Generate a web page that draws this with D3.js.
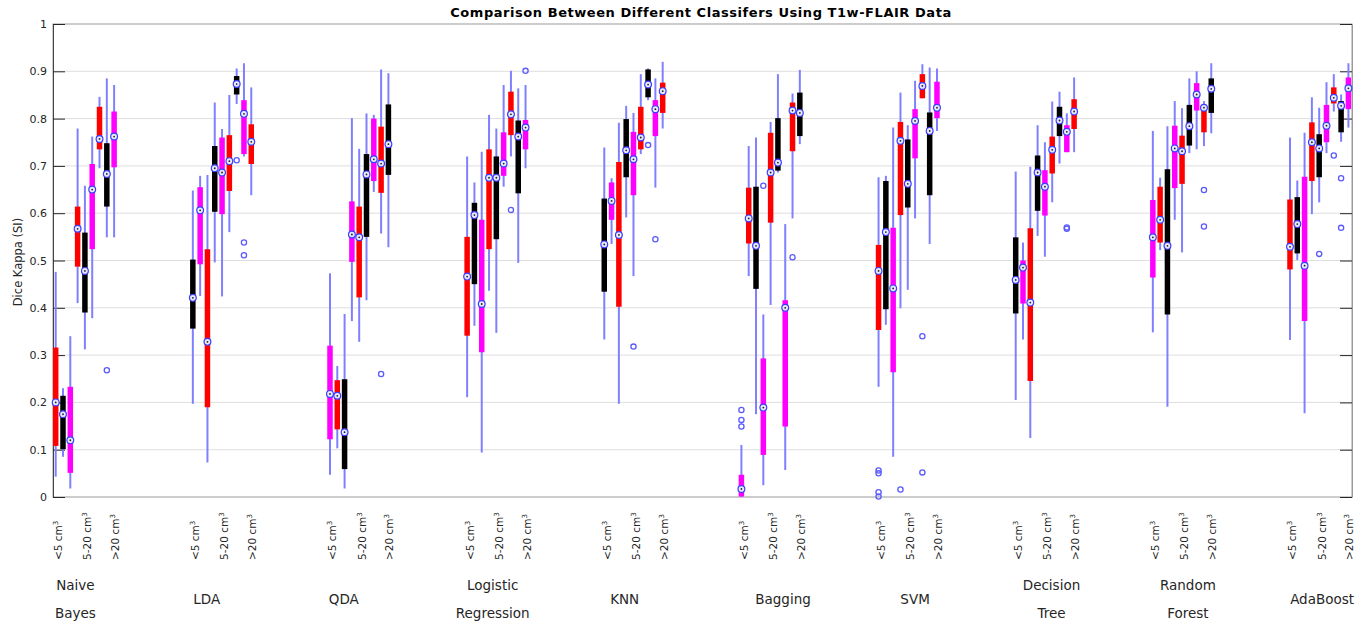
<!DOCTYPE html>
<html><head><meta charset="utf-8">
<script src="https://cdn.jsdelivr.net/npm/d3@7"></script>
<style>
body{margin:0;background:#fff;}
text{font-family:"DejaVu Sans",sans-serif;}
</style>
</head><body>
<svg id="chart" width="1371" height="625"></svg>
<script>
// ---------------- DATA ----------------
const classifiers = [["Naive","Bayes"],["LDA"],["QDA"],["Logistic","Regression"],["KNN"],["Bagging"],["SVM"],["Decision","Tree"],["Random","Forest"],["AdaBoost"]];
const sizeLabels = ["<5 cm", "5-20 cm", ">20 cm"];
const boxColors = ["#ff0000", "#000000", "#ff00ff"];
const yTicks = [0,0.1,0.2,0.3,0.4,0.5,0.6,0.7,0.8,0.9,1];
const yTickLabels = ["0","0.1","0.2","0.3","0.4","0.5","0.6","0.7","0.8","0.9","1"];

// nine boxes per classifier
const whiskerLow = [
 [0.043,0.085,0.018,0.410,0.312,0.378,0.695,0.549,0.549],
 [0.197,0.425,0.073,0.496,0.424,0.560,0.831,0.720,0.638],
 [0.047,0.103,0.018,0.372,0.328,0.416,0.645,0.557,0.528],
 [0.211,0.362,0.094,0.436,0.347,0.656,0.720,0.495,0.695],
 [0.333,0.535,0.197,0.591,0.467,0.725,0.839,0.654,0.779],
 [0.000,0.467,0.175,0.025,0.406,0.686,0.057,0.589,0.746],
 [0.233,0.364,0.085,0.399,0.438,0.589,0.843,0.535,0.774],
 [0.205,0.333,0.125,0.552,0.508,0.623,0.705,0.729,0.729],
 [0.348,0.522,0.191,0.586,0.517,0.727,0.735,0.742,0.769],
 [0.332,0.501,0.177,0.598,0.623,0.727,0.815,0.751,0.781]
];
const q1 = [
 [0.108,0.101,0.051,0.487,0.390,0.524,0.735,0.614,0.697],
 [0.356,0.492,0.190,0.603,0.598,0.647,0.851,0.725,0.704],
 [0.122,0.143,0.059,0.497,0.422,0.550,0.668,0.643,0.681],
 [0.341,0.450,0.306,0.524,0.545,0.679,0.765,0.642,0.735],
 [0.434,0.586,0.402,0.676,0.638,0.735,0.845,0.763,0.812],
 [0.001,0.536,0.440,0.089,0.580,0.690,0.149,0.731,0.763],
 [0.353,0.397,0.264,0.596,0.612,0.716,0.843,0.638,0.801],
 [0.388,0.409,0.245,0.605,0.595,0.684,0.763,0.729,0.778],
 [0.464,0.538,0.386,0.653,0.662,0.743,0.817,0.771,0.812],
 [0.481,0.515,0.372,0.668,0.676,0.750,0.832,0.771,0.820]
];
const median = [
 [0.200,0.175,0.120,0.567,0.478,0.650,0.757,0.683,0.762],
 [0.421,0.606,0.328,0.695,0.686,0.710,0.873,0.810,0.751],
 [0.218,0.214,0.137,0.555,0.549,0.682,0.714,0.705,0.746],
 [0.466,0.596,0.408,0.675,0.675,0.705,0.809,0.762,0.781],
 [0.534,0.626,0.554,0.733,0.714,0.760,0.872,0.820,0.858],
 [0.017,0.589,0.531,0.189,0.686,0.707,0.400,0.817,0.812],
 [0.478,0.560,0.441,0.753,0.662,0.795,0.869,0.774,0.823],
 [0.459,0.485,0.411,0.686,0.656,0.734,0.796,0.772,0.815],
 [0.549,0.586,0.531,0.737,0.731,0.784,0.851,0.823,0.863],
 [0.529,0.577,0.489,0.750,0.737,0.785,0.844,0.827,0.864]
];
const q3 = [
 [0.316,0.214,0.233,0.614,0.559,0.704,0.825,0.748,0.815],
 [0.502,0.655,0.524,0.742,0.760,0.765,0.890,0.839,0.788],
 [0.320,0.247,0.249,0.625,0.614,0.725,0.800,0.783,0.830],
 [0.550,0.622,0.586,0.735,0.720,0.771,0.857,0.796,0.797],
 [0.631,0.665,0.708,0.799,0.772,0.825,0.904,0.839,0.876],
 [0.047,0.654,0.656,0.293,0.770,0.801,0.416,0.834,0.855],
 [0.533,0.668,0.569,0.793,0.756,0.820,0.894,0.813,0.878],
 [0.549,0.500,0.568,0.722,0.691,0.762,0.825,0.786,0.841],
 [0.628,0.656,0.693,0.785,0.764,0.829,0.875,0.827,0.885],
 [0.629,0.634,0.677,0.792,0.767,0.829,0.866,0.837,0.887]
];
const whiskerHigh = [
 [0.476,0.230,0.340,0.779,0.658,0.762,0.846,0.885,0.871],
 [0.648,0.679,0.681,0.834,0.778,0.850,0.906,0.917,0.866],
 [0.473,0.277,0.387,0.801,0.736,0.811,0.808,0.904,0.896],
 [0.720,0.665,0.730,0.808,0.779,0.871,0.901,0.864,0.871],
 [0.739,0.674,0.791,0.827,0.812,0.894,0.906,0.885,0.920],
 [0.110,0.742,0.760,0.386,0.793,0.894,0.577,0.853,0.903],
 [0.676,0.679,0.781,0.855,0.786,0.880,0.915,0.908,0.906],
 [0.688,0.538,0.698,0.786,0.750,0.836,0.857,0.811,0.887],
 [0.774,0.675,0.784,0.837,0.822,0.885,0.900,0.837,0.917],
 [0.760,0.669,0.770,0.845,0.823,0.877,0.894,0.851,0.917]
];
// [classifier, box, value]
const outliers = [
 [0,7,0.268],
 [1,6,0.712],[1,7,0.538],[1,7,0.511],
 [2,7,0.260],
 [3,6,0.607],[3,8,0.901],
 [4,4,0.318],[4,6,0.744],[4,7,0.545],
 [5,0,0.184],[5,0,0.163],[5,0,0.149],[5,3,0.658],[5,7,0.507],
 [6,0,0.056],[6,0,0.050],[6,0,0.010],[6,0,0.001],[6,3,0.016],[6,6,0.340],[6,6,0.052],
 [7,7,0.567],[7,7,0.570],
 [8,7,0.649],[8,7,0.572],
 [9,4,0.514],[9,6,0.722],[9,7,0.674],[9,7,0.569]
];

// ---------------- LAYOUT ----------------
const plot = {left: 53, right: 1352, top: 24, bottom: 497};
const groupStride = 18.78;           // slots per classifier on the position axis
const boxesPerGroup = 9;
const sizeLabelSlots = [0.4, 4.4, 8.2];
const groupLabelSlots = [2.7, 1.9, 1.9, 3.5, 2.8, 5.7, 5.0, 4.9, 4.8, 4.4];

const svg = d3.select("#chart");
const pos = (g, j) => g * groupStride + j;
const x = d3.scaleLinear().domain([0, pos(9, 8)]).range([55.7, 1348.4]);
const y = d3.scaleLinear().domain([0, 1]).range([plot.bottom, plot.top]);

// grid
svg.append("g").selectAll("line").data(yTicks.slice(1, -1)).join("line")
  .attr("x1", plot.left).attr("x2", plot.right)
  .attr("y1", d => y(d)).attr("y2", d => y(d))
  .attr("stroke", "#dedede").attr("stroke-width", 1);

// frame
svg.append("rect").attr("x", plot.left).attr("y", plot.top)
  .attr("width", plot.right - plot.left).attr("height", plot.bottom - plot.top)
  .attr("fill", "none").attr("stroke", "#9a9a9a").attr("stroke-width", 1);

// left axis via d3
const yAxis = d3.axisLeft(y).tickValues(yTicks).tickFormat((d, i) => yTickLabels[i]).tickSizeInner(-12).tickSizeOuter(0).tickPadding(6);
const ga = svg.append("g").attr("transform", `translate(${plot.left},0)`).call(yAxis);
ga.select(".domain").attr("stroke", "#444");
ga.selectAll(".tick line").attr("stroke", "#262626");
ga.selectAll(".tick text").attr("fill", "#262626").style("font-size", "11px").style("font-family", "DejaVu Sans");
// right ticks
const yAxisR = d3.axisRight(y).tickValues(yTicks).tickFormat("").tickSizeInner(-12).tickSizeOuter(0);
const gr = svg.append("g").attr("transform", `translate(${plot.right},0)`).call(yAxisR);
gr.select(".domain").attr("stroke", "#9a9a9a");
gr.selectAll(".tick line").attr("stroke", "#262626");

// box data
const boxes = [];
classifiers.forEach((c, g) => {
  for (let j = 0; j < boxesPerGroup; j++) {
    boxes.push({g, j, color: boxColors[(g * 10 + j) % 3],
      wl: whiskerLow[g][j], q1: q1[g][j], med: median[g][j], q3: q3[g][j], wh: whiskerHigh[g][j]});
  }
});

const gB = svg.append("g");
// whiskers
gB.selectAll("line.wh").data(boxes).join("line").attr("class", "wh")
  .attr("x1", d => x(pos(d.g, d.j))).attr("x2", d => x(pos(d.g, d.j)))
  .attr("y1", d => y(d.wl)).attr("y2", d => y(d.wh))
  .attr("stroke", "#8080ff").attr("stroke-width", 2);
// boxes
gB.selectAll("line.bx").data(boxes).join("line").attr("class", "bx")
  .attr("x1", d => x(pos(d.g, d.j))).attr("x2", d => x(pos(d.g, d.j)))
  .attr("y1", d => y(d.q1)).attr("y2", d => y(d.q3))
  .attr("stroke", d => d.color).attr("stroke-width", 5.5);
// outliers
gB.selectAll("circle.out").data(outliers).join("circle").attr("class", "out")
  .attr("cx", d => x(pos(d[0], d[1]))).attr("cy", d => y(d[2]))
  .attr("r", 2.6).attr("fill", "none").attr("stroke", "#5a5aff").attr("stroke-width", 1.3);
// medians
gB.selectAll("circle.med").data(boxes).join("circle").attr("class", "med")
  .attr("cx", d => x(pos(d.g, d.j))).attr("cy", d => y(d.med))
  .attr("r", 3.4).attr("fill", "#e8e8ff").attr("stroke", "#3c3cff").attr("stroke-width", 1.2);
gB.selectAll("circle.md").data(boxes).join("circle").attr("class", "md")
  .attr("cx", d => x(pos(d.g, d.j))).attr("cy", d => y(d.med))
  .attr("r", 0.9).attr("fill", "#222");

// size tick labels (rotated)
const tl = [];
classifiers.forEach((c, g) => sizeLabels.forEach((s, k) => tl.push({g, k, s})));
const tg = svg.append("g").selectAll("text").data(tl).join("text")
  .attr("transform", d => `translate(${x(pos(d.g, sizeLabelSlots[d.k])) + 3.5},560) rotate(-90)`)
  .attr("text-anchor", "start").attr("fill", "#262626").style("font-size", "10.5px");
tg.append("tspan").text(d => d.s);
tg.append("tspan").attr("dy", -4).style("font-size", "7px").text("3");

// classifier labels
const cg = svg.append("g").selectAll("text").data(classifiers).join("text")
  .attr("x", (d, g) => x(pos(g, groupLabelSlots[g])))
  .attr("text-anchor", "middle").attr("fill", "#262626").style("font-size", "13.5px");
cg.each(function(d) {
  const t = d3.select(this);
  if (d.length === 1) {
    t.append("tspan").attr("y", 604).text(d[0]);
  } else {
    t.append("tspan").attr("y", 590).text(d[0]);
    t.append("tspan").attr("x", t.attr("x")).attr("y", 618).text(d[1]);
  }
});

// title and y label
svg.append("text").attr("x", 701).attr("y", 17).attr("text-anchor", "middle")
  .style("font-size", "13px").style("font-weight", "bold").style("letter-spacing", "0.55px").attr("fill", "#000")
  .text("Comparison Between Different Classifers Using T1w-FLAIR Data");
svg.append("text").attr("transform", "translate(22,262) rotate(-90)").attr("text-anchor", "middle")
  .style("font-size", "11.5px").attr("fill", "#262626").text("Dice Kappa (SI)");
</script>
</body></html>
